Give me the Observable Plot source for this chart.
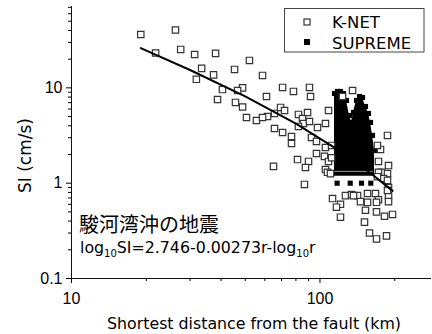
<!DOCTYPE html>
<html><head><meta charset="utf-8">
<script src="https://cdn.jsdelivr.net/npm/d3@7"></script>
<script src="https://cdn.jsdelivr.net/npm/@observablehq/plot@0.6"></script>
<style>body{margin:0;background:#fff}#chart{width:432px;height:334px}</style>
</head><body><div id="chart"></div>
<script>
// K-NET observations: distance (km) and SI (cm/s)
const knetR = [19.0,26.2,21.8,27.5,31.3,38.0,33.4,31.8,37.3,45.3,52.0,58.7,40.5,38.7,45.7,48.8,48.8,46.6,50.6,55.5,
  60.9,61.5,70.7,78.2,90.7,91.6,58.7,65.6,69.4,72.0,81.9,85.0,89.1,85.8,90.7,97.7,105.2,108.2,65.6,70.7,
  76.8,76.8,81.9,92.4,96.8,105.2,96.8,104.2,81.2,89.9,87.4,108.2,105.2,65.0,107.2,111.3,110.2,86.6,135.2,123.2,
  186.9,175.2,171.9,188.7,176.8,186.9,180.1,186.9,188.7,188.7,188.7,155.3,167.2,141.6,155.3,171.9,152.4,168.8,181.8,195.8,
  151.0,158.2,168.8,185.2,112.3,120.9,116.5,120.9,126.6,133.9,136.4,145.5,168.8,186.9,171.9,170.3,170.3,111.3];
const knetSI = [36.3,40.5,23.2,25.3,22.4,23.0,16.0,12.3,13.7,15.6,19.4,13.5,9.6,7.55,7.03,6.3,10.0,9.39,4.89,4.55,
  8.12,5.01,10.1,9.17,10.1,8.12,4.89,5.39,6.23,5.79,5.26,4.77,5.52,4.23,4.44,3.84,4.23,5.79,3.75,3.40,
  3.09,2.61,3.94,3.02,2.74,2.37,2.05,1.91,1.77,1.69,1.46,1.69,1.39,1.50,1.30,2.49,1.26,0.97,9.39,8.12,
  3.17,2.26,1.69,1.53,1.30,1.26,1.12,1.07,0.90,0.74,0.64,0.78,0.78,0.74,0.63,0.67,0.52,0.50,0.45,0.47,
  0.39,0.30,0.26,0.28,0.69,0.60,0.56,0.44,0.74,0.76,0.74,0.64,0.63,0.84,1.30,1.17,2.49,1.85];

// SUPREME dense cloud: envelope per distance column (top / bottom SI)
const supR = [114.4,117.6,120.9,124.3,127.8,131.4,133.9,136.4,140.3,144.2,148.3,152.4,156.7,159.7,162.7,165.7];
const supTop = [8.73,9.17,9.17,8.73,7.38,5.13,4.34,5.52,7.38,8.12,7.93,6.38,5.39,4.34,3.17,2.20];
const supBottom = [1.18,1.18,1.18,1.18,1.18,1.18,1.18,1.18,1.18,1.18,1.18,1.18,1.18,1.18,1.18,1.18];
// isolated SUPREME points below the cloud
const supLowR = [117.2,132.3,146.9,160.1];
const supLowSI = [1.0,1.0,1.0,1.0];

// regression curve log10SI = 2.746 - 0.00273 r - log10 r
const fitR = [19,30,50,80,120,160,196];
const fitSI = [26.1,15.4,8.14,4.21,2.18,1.27,0.83];

const majorX = [10,100];
const minorX = [20,30,40,50,60,70,80,90,200];
const majorY = [0.1,1,10];
const minorY = [0.2,0.3,0.4,0.5,0.6,0.7,0.8,0.9,2,3,4,5,6,7,8,9,20,30,40,50,60,70];

const TICKFONT = '"Liberation Sans", Arial, sans-serif';
const FONT = '"DejaVu Sans", "Noto Sans CJK JP", sans-serif';
const CJK = '"Noto Sans CJK JP", sans-serif';

const knet = knetR.map((r,i)=>({r, si:knetSI[i]}));
const sup = supR.map((r,i)=>({r, top:supTop[i], bottom:supBottom[i]}));
const supLow = supLowR.map((r,i)=>({r, si:supLowSI[i]}));
const fit = fitR.map((r,i)=>({r, si:fitSI[i]}));

const plot = Plot.plot({
  width: 432, height: 334,
  marginLeft: 71, marginTop: 6, marginRight: 1, marginBottom: 56,
  style: {fontFamily: TICKFONT, fontSize: "16px", color: "#000", background: "#fff"},
  x: {type: "log", domain: [10, 281]},
  y: {type: "log", domain: [0.1, 71.4]},
  marks: [
    Plot.axisX({ticks: majorX, tickSize: 5, tickPadding: 9, tickFormat: d => String(d), label: null, fontSize: 16, fontFamily: TICKFONT}),
    Plot.axisX({ticks: minorX, tickSize: 3, tickFormat: () => "", label: null}),
    Plot.axisY({ticks: majorY, tickSize: 5, tickPadding: 4, tickFormat: d => String(d), label: null, fontSize: 16, fontFamily: TICKFONT}),
    Plot.axisY({ticks: minorY, tickSize: 3, tickFormat: () => "", label: null}),
    Plot.ruleX([10], {stroke: "#111"}),
    Plot.ruleY([0.1], {stroke: "#111"}),
    Plot.areaY(sup, {x: "r", y1: "bottom", y2: "top", fill: "#000"}),
    Plot.dot(sup, {x: "r", y: "top", symbol: "square", r: 2.9, fill: "#000"}),
    Plot.dot(supLow, {x: "r", y: "si", symbol: "square", r: 2.9, fill: "#000"}),
    Plot.ruleY([1.33], {x1: 114.4, x2: 163.5, stroke: "#9a9a9a", strokeWidth: 1}),
    Plot.dot(knet, {x: "r", y: "si", symbol: "square", r: 3.6, stroke: "#333", strokeWidth: 1.2, fill: "#fff"}),
    Plot.line(fit, {x: "r", y: "si", stroke: "#000", strokeWidth: 2})
  ]
});
document.getElementById("chart").appendChild(plot);

const svg = d3.select(plot);
function txt(sel, family, size, anchor) {
  return sel.style("font-family", family).style("font-size", size).attr("text-anchor", anchor).attr("fill", "#000");
}
txt(svg.append("text").attr("x", 254).attr("y", 329), FONT, "15.8px", "middle")
  .text("Shortest distance from the fault (km)");
txt(svg.append("text").attr("transform", "translate(30.5,155.5) rotate(-90)"), FONT, "17px", "middle")
  .text("SI (cm/s)");
txt(svg.append("text").attr("x", 79).attr("y", 232), CJK, "20px", "start")
  .text("駿河湾沖の地震");
const f = txt(svg.append("text").attr("x", 80).attr("y", 253), FONT, "15.8px", "start");
f.append("tspan").text("log");
f.append("tspan").attr("dy", 4).style("font-size", "10px").text("10");
f.append("tspan").attr("dy", -4).text("SI=2.746-0.00273r-log");
f.append("tspan").attr("dy", 4).style("font-size", "10px").text("10");
f.append("tspan").attr("dy", -4).text("r");

// legend
const lg = svg.append("g");
lg.append("rect").attr("x", 284.5).attr("y", 8.5).attr("width", 139.5).attr("height", 43.5)
  .attr("fill", "#fff").attr("stroke", "#444").attr("stroke-width", 1);
lg.append("rect").attr("x", 304).attr("y", 19).attr("width", 6).attr("height", 6)
  .attr("fill", "#fff").attr("stroke", "#333").attr("stroke-width", 1.2);
lg.append("rect").attr("x", 304).attr("y", 39).attr("width", 6).attr("height", 6).attr("fill", "#000");
txt(lg.append("text").attr("x", 332).attr("y", 27.5), FONT, "16.5px", "start").text("K-NET");
txt(lg.append("text").attr("x", 332).attr("y", 48.5), FONT, "16.5px", "start").text("SUPREME");
</script>
</body></html>
